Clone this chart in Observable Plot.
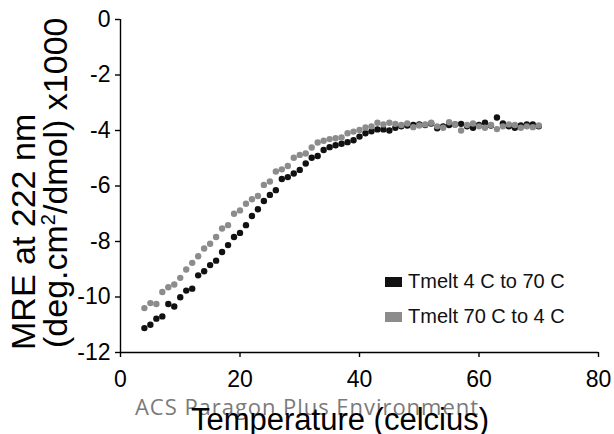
<!DOCTYPE html>
<html>
<head>
<meta charset="utf-8">
<script src="https://cdn.jsdelivr.net/npm/d3@7"></script>
<script src="https://cdn.jsdelivr.net/npm/@observablehq/plot@0.6"></script>
<style>
  html, body { margin: 0; padding: 0; background: #fff; }
  #wrap { position: relative; width: 614px; height: 434px; font-family: "Liberation Sans", Arial, Helvetica, sans-serif; }
  .leg { position: absolute; left: 385px; font-size: 20px; color: #111; white-space: nowrap; line-height: 20px; }
  .leg span.sw { display: inline-block; width: 17px; height: 10px; margin-right: 6px; vertical-align: 1px; }
</style>
</head>
<body>
<div id="wrap"></div>
<script>
const temps = [4,5,6,7,8,9,10,11,12,13,14,15,16,17,18,19,20,21,22,23,24,25,26,27,28,29,30,31,32,33,34,35,36,37,38,39,40,41,42,43,44,45,46,47,48,49,50,51,52,53,54,55,56,57,58,59,60,61,62,63,64,65,66,67,68,69,70];
const heating = [-11.12,-11.00,-10.78,-10.70,-10.25,-10.34,-10.01,-9.77,-9.70,-9.22,-9.07,-8.85,-8.69,-8.38,-8.13,-7.84,-7.69,-7.41,-7.08,-6.84,-6.54,-6.32,-6.15,-5.75,-5.68,-5.55,-5.42,-5.19,-4.98,-4.92,-4.70,-4.60,-4.53,-4.48,-4.42,-4.35,-4.22,-4.10,-4.03,-3.96,-3.96,-4.00,-3.90,-3.85,-3.82,-3.80,-3.78,-3.80,-3.75,-3.92,-3.85,-3.80,-3.78,-3.76,-3.85,-3.90,-3.80,-3.72,-3.82,-3.53,-3.75,-3.85,-3.90,-3.82,-3.78,-3.78,-3.85];
const cooling = [-10.40,-10.22,-10.25,-9.82,-9.65,-9.55,-9.31,-9.01,-8.77,-8.53,-8.25,-8.08,-7.84,-7.53,-7.41,-7.00,-6.88,-6.64,-6.48,-6.36,-5.96,-5.84,-5.48,-5.40,-5.28,-4.98,-4.88,-4.83,-4.61,-4.43,-4.37,-4.31,-4.28,-4.25,-4.10,-4.04,-3.98,-3.89,-3.85,-3.72,-3.78,-3.72,-3.76,-3.80,-3.75,-3.88,-3.82,-3.78,-3.72,-3.85,-3.90,-3.70,-3.78,-4.00,-3.80,-3.75,-3.85,-3.90,-3.80,-3.95,-3.85,-3.78,-3.80,-3.90,-3.85,-3.88,-3.82];
const seriesNames = ["Tmelt 4 C to 70 C", "Tmelt 70 C to 4 C"];
const seriesColors = ["#111111", "#8c8c8c"];
const xTicks = [0, 20, 40, 60, 80];
const yTicks = [-12, -10, -8, -6, -4, -2, 0];

const heatData = temps.map((t, i) => ({t, v: heating[i]}));
const coolData = temps.map((t, i) => ({t, v: cooling[i]}));

const plot = Plot.plot({
  width: 614,
  height: 434,
  marginLeft: 120,
  marginRight: 16,
  marginTop: 19,
  marginBottom: 82,
  style: { fontFamily: "'Liberation Sans', Arial, Helvetica, sans-serif", fontSize: "23px", color: "#000", background: "transparent" },
  x: { domain: [0, 80], ticks: xTicks, tickSize: 5, tickPadding: 13, label: null, tickFormat: d => String(d) },
  y: { domain: [-12, 0], ticks: yTicks, tickSize: 5, tickPadding: 5, label: null, tickFormat: d => String(d) },
  marks: [
    Plot.dot(heatData, { x: "t", y: "v", r: 3.2, fill: seriesColors[0], stroke: "none" }),
    Plot.dot(coolData, { x: "t", y: "v", r: 3.2, fill: seriesColors[1], stroke: "none" }),
    Plot.ruleX([0], { stroke: "#000", strokeWidth: 1.4 }),
    Plot.ruleY([-12], { stroke: "#000", strokeWidth: 1.4 })
  ]
});

const wrap = document.getElementById("wrap");
wrap.appendChild(plot);

const svg = d3.select(plot);
svg.selectAll("[aria-label='x-axis tick'], [aria-label='y-axis tick']").attr("stroke-width", 1.4);

// watermark
svg.append("text")
  .attr("x", 135).attr("y", 415)
  .attr("text-anchor", "start")
  .attr("font-family", "'Open Sans', 'Noto Sans', sans-serif")
  .attr("font-size", 22)
  .attr("fill", "#7a7a7a")
  .attr("textLength", 343)
  .text("ACS Paragon Plus Environment");

// x title
svg.append("text")
  .attr("x", 340).attr("y", 430)
  .attr("text-anchor", "middle")
  .attr("font-size", 31)
  .attr("fill", "#000")
  .text("Temperature (celcius)");

// y title (two lines, rotated)
const yt = svg.append("text")
  .attr("transform", "translate(35,350) rotate(-90)")
  .attr("font-size", 34)
  .attr("fill", "#000")
  .attr("text-anchor", "start");
yt.append("tspan").attr("x", 0).attr("y", 0).text("MRE at 222 nm");
const l2 = yt.append("tspan").attr("x", 2).attr("y", 32);
l2.append("tspan").text("(deg.cm");
l2.append("tspan").attr("font-size", 20).attr("dy", -12).text("2");
l2.append("tspan").attr("dy", 12).text("/dmol) x1000");

// legend
seriesNames.forEach((name, i) => {
  const d = document.createElement("div");
  d.className = "leg";
  d.style.top = (i === 0 ? 271 : 306) + "px";
  const sw = document.createElement("span");
  sw.className = "sw";
  sw.style.background = seriesColors[i];
  d.appendChild(sw);
  d.appendChild(document.createTextNode(name));
  wrap.appendChild(d);
});
</script>
</body>
</html>
